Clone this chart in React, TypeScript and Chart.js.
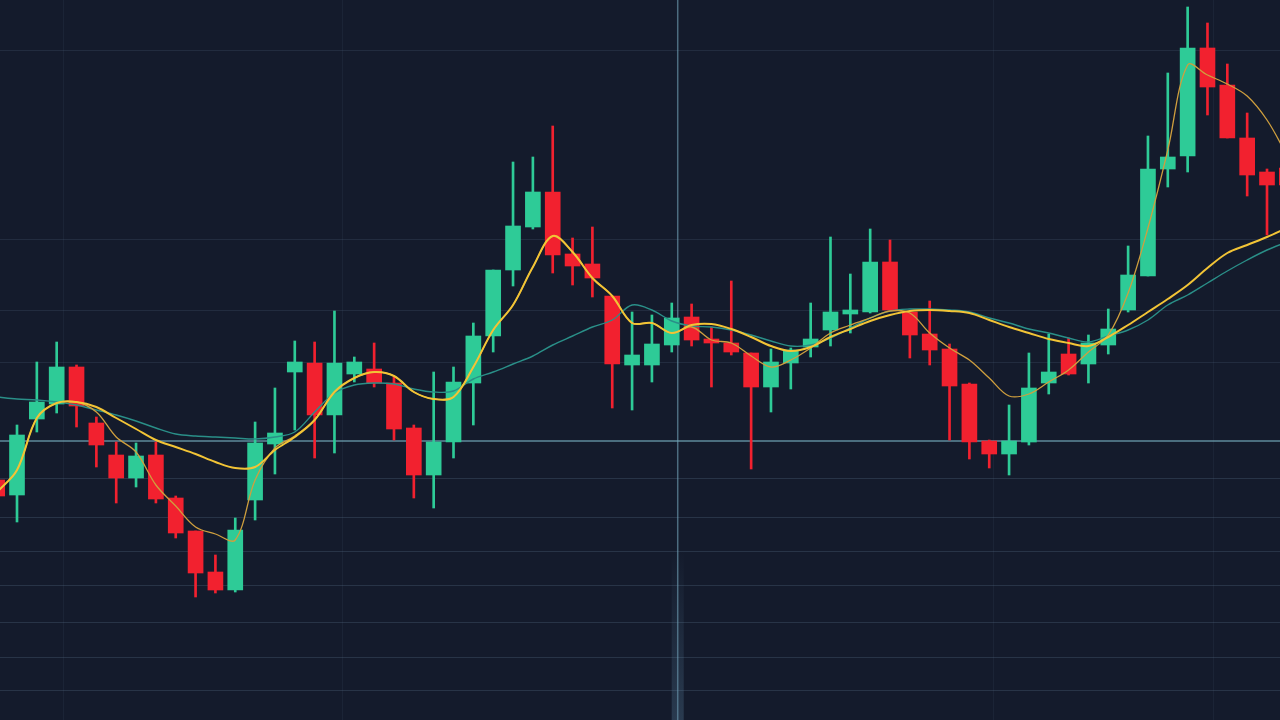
import { useEffect, useRef } from "react";
import { Chart, registerables } from "chart.js";

Chart.register(...registerables);

// Candle prices (index 0 = first, partly hidden candle at the left edge)
const opens = [240, 225, 301, 316, 353, 297, 265, 242, 265, 222, 189, 148, 130, 220, 276, 348, 357, 305, 346, 351, 337, 292, 245, 278, 337, 384, 450, 493, 528, 466, 456, 424, 355, 355, 375, 403, 381, 377, 367, 333, 357, 373, 390, 406, 408, 458, 408, 386, 371, 336, 279, 266, 278, 337, 366, 356, 375, 410, 444, 551, 564, 672, 635, 582, 548, 552];
const closes = [224, 285, 318, 353, 314, 275, 242, 264, 221, 187, 147, 130, 190, 277, 287, 358, 305, 357, 358, 337, 291, 245, 278, 338, 384, 450, 494, 528, 465, 454, 442, 356, 365, 376, 402, 380, 377, 368, 333, 358, 370, 381, 408, 410, 458, 410, 385, 370, 334, 278, 266, 279, 332, 348, 346, 377, 391, 445, 551, 563, 672, 633, 582, 545, 535, 535];
const highs = [246, 295, 358, 378, 355, 303, 278, 277, 278, 224, 189, 165, 202, 298, 332, 379, 378, 409, 363, 377, 343, 295, 348, 353, 397, 450, 558, 563, 594, 482, 493, 424, 408, 405, 417, 416, 393, 439, 367, 371, 372, 417, 483, 446, 491, 480, 408, 419, 376, 337, 280, 315, 367, 386, 382, 385, 411, 474, 584, 647, 713, 697, 656, 607, 551, 560];
const lows = [220, 198, 288, 307, 293, 253, 217, 233, 217, 182, 123, 127, 128, 200, 246, 290, 262, 267, 338, 333, 280, 222, 212, 262, 295, 368, 434, 491, 447, 435, 423, 312, 310, 338, 368, 374, 333, 365, 251, 308, 331, 363, 374, 387, 407, 410, 362, 355, 280, 261, 252, 245, 275, 326, 345, 337, 366, 408, 444, 533, 548, 605, 582, 524, 485, 520];

// Moving averages
const fastMA = [228, 250, 302, 317, 318, 308, 283, 268, 235, 214, 193, 186, 180, 240, 272, 284, 300, 328, 342, 348, 344, 328, 321, 323, 353, 390, 415, 453, 484, 468, 442, 424, 397, 397, 387, 393, 380, 377, 364, 353, 360, 372, 387, 395, 402, 409, 407, 387, 372, 360, 342, 324, 326, 338, 350, 368, 385, 427, 492, 570, 655, 645, 636, 624, 600, 565];
const midMA = [228, 250, 302, 317, 318, 313, 302, 291, 280, 273, 266, 258, 252, 253, 270, 283, 300, 328, 342, 348, 344, 328, 321, 323, 353, 390, 415, 453, 484, 468, 442, 424, 397, 397, 387, 395, 396, 391, 383, 374, 369, 373, 383, 391, 399, 405, 409, 410, 409, 407, 400, 393, 387, 381, 377, 374, 383, 395, 408, 421, 435, 452, 467, 475, 483, 492];
const slowMA = [323, 321, 320, 318, 315, 310, 305, 299, 292, 286, 284, 283, 282, 281, 283, 288, 308, 327, 335, 337, 336, 331, 328, 329, 341, 348, 356, 364, 375, 384, 393, 400, 415, 410, 399, 394, 393, 390, 385, 379, 374, 375, 382, 392, 402, 409, 411, 411, 410, 408, 402, 397, 391, 387, 382, 378, 384, 390, 400, 415, 425, 437, 449, 460, 470, 478];

// Grid and crosshair
const gridPrices = [670, 481, 410, 358, 242, 203, 169, 135, 98, 63, 30];
const gridTimes = [3.3, 17.4, 50.2, 61.3];
const crosshairPrice = 279;
const crosshairTime = 34.3;

const BG = "#141b2c";
const UP = "#2ecb97";
const DOWN = "#f2212f";

export default function App() {
  const ref = useRef<HTMLCanvasElement>(null);

  useEffect(() => {
    const canvas = ref.current;
    if (!canvas) return;
    const idx = opens.map((_, i) => i);
    const colors = opens.map((o, i) => (closes[i] >= o ? UP : DOWN));

    const backdrop = {
      id: "backdrop",
      beforeDraw(chart: any) {
        const { ctx, width, height } = chart;
        ctx.save();
        ctx.fillStyle = BG;
        ctx.fillRect(0, 0, width, height);
        ctx.restore();
      },
      beforeDatasetsDraw(chart: any) {
        const { ctx, chartArea: a, scales } = chart;
        const x = scales.x;
        const y = scales.y;
        ctx.save();
        ctx.lineWidth = 1;
        gridPrices.forEach((p) => {
          const py = Math.round(y.getPixelForValue(p)) + 0.5;
          ctx.strokeStyle = p > 300 ? "rgba(85,105,130,0.22)" : "rgba(85,105,130,0.32)";
          ctx.beginPath();
          ctx.moveTo(a.left, py);
          ctx.lineTo(a.right, py);
          ctx.stroke();
        });
        ctx.strokeStyle = "rgba(85,105,130,0.12)";
        gridTimes.forEach((t) => {
          const px = Math.round(x.getPixelForValue(t)) + 0.5;
          ctx.beginPath();
          ctx.moveTo(px, a.top);
          ctx.lineTo(px, a.bottom);
          ctx.stroke();
        });
        // crosshair
        const cy = y.getPixelForValue(crosshairPrice);
        const cx = x.getPixelForValue(crosshairTime);
        ctx.strokeStyle = "rgba(120,178,192,0.75)";
        ctx.lineWidth = 1.5;
        ctx.beginPath();
        ctx.moveTo(a.left, cy);
        ctx.lineTo(a.right, cy);
        ctx.stroke();
        ctx.strokeStyle = "rgba(115,165,185,0.6)";
        ctx.beginPath();
        ctx.moveTo(cx, a.top);
        ctx.lineTo(cx, a.bottom);
        ctx.stroke();
        // soft glow at bottom of the vertical crosshair
        const g = ctx.createLinearGradient(0, a.bottom - 170, 0, a.bottom);
        g.addColorStop(0, "rgba(90,130,160,0)");
        g.addColorStop(1, "rgba(90,130,160,0.3)");
        ctx.fillStyle = g;
        ctx.fillRect(cx - 6, a.bottom - 170, 12, 170);
        ctx.restore();
      },
    };

    const chart = new Chart(canvas, {
      type: "bar",
      data: {
        datasets: [
          {
            type: "line",
            label: "MA mid",
            data: idx.map((i) => ({ x: i, y: midMA[i] })),
            borderColor: "#f2c436",
            borderWidth: 2,
            pointRadius: 0,
            tension: 0.35,
            order: 0,
          },
          {
            type: "line",
            label: "MA fast",
            data: idx.map((i) => ({ x: i, y: fastMA[i] })),
            borderColor: "#cf9f3e",
            borderWidth: 1.3,
            pointRadius: 0,
            tension: 0.35,
            order: 1,
          },
          {
            type: "line",
            label: "MA slow",
            data: idx.map((i) => ({ x: i, y: slowMA[i] })),
            borderColor: "#2a8f88",
            borderWidth: 1.4,
            pointRadius: 0,
            tension: 0.35,
            order: 2,
          },
          {
            type: "bar",
            label: "Body",
            data: idx.map((i) => ({ x: i, y: [opens[i], closes[i]] })),
            backgroundColor: colors,
            barThickness: 15,
            minBarLength: 2,
            grouped: false,
            order: 3,
          },
          {
            type: "bar",
            label: "Wick",
            data: idx.map((i) => ({ x: i, y: [lows[i], highs[i]] })),
            backgroundColor: colors,
            barThickness: 2,
            grouped: false,
            order: 4,
          },
        ] as any,
      },
      options: {
        animation: false,
        responsive: false,
        events: [],
        layout: { padding: 0 },
        plugins: { legend: { display: false }, tooltip: { enabled: false } },
        scales: {
          x: { type: "linear", display: false, offset: false, min: 0.143, max: 64.655 },
          y: { type: "linear", display: false, min: 0, max: 720 },
        },
      } as any,
      plugins: [backdrop],
    });
    return () => chart.destroy();
  }, []);

  return (
    <div style={{ position: "fixed", left: 0, top: 0, width: 1280, height: 720, background: BG }}>
      <canvas ref={ref} width={1280} height={720} style={{ display: "block" }} />
    </div>
  );
}
